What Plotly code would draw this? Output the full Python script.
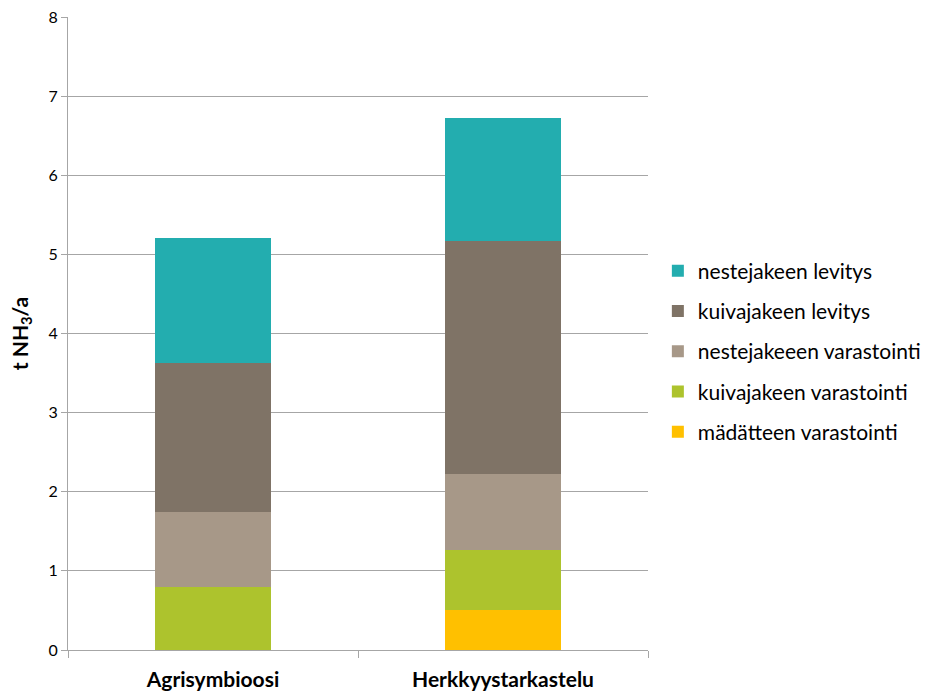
import plotly.graph_objects as go

categories = ["Agrisymbioosi", "Herkkyystarkastelu"]
series_names = [
    "mädätteen varastointi",
    "kuivajakeen varastointi",
    "nestejakeeen varastointi",
    "kuivajakeen levitys",
    "nestejakeen levitys",
]
madatteen_varastointi = [0.0, 0.50]
kuivajakeen_varastointi = [0.80, 0.77]
nestejakeen_varastointi = [0.95, 0.95]
kuivajakeen_levitys = [1.88, 2.95]
nestejakeen_levitys = [1.58, 1.55]
series_values = [
    madatteen_varastointi,
    kuivajakeen_varastointi,
    nestejakeen_varastointi,
    kuivajakeen_levitys,
    nestejakeen_levitys,
]
colors = ["#FFC000", "#ADC32D", "#A79888", "#7F7366", "#23ADAF"]
y_ticks = [0, 1, 2, 3, 4, 5, 6, 7, 8]

FONT = "Lato"

fig = go.Figure()
n = len(series_names)
for i, (name, vals, col) in enumerate(zip(series_names, series_values, colors)):
    fig.add_trace(go.Bar(
        x=categories, y=vals, name=name, marker_color=col,
        marker_line_width=0, legendgroup=f"g{i}", legendrank=n - i,
    ))

fig.update_layout(
    barmode="stack",
    bargap=0.6,
    width=942, height=693,
    margin=dict(l=68, r=294, t=17, b=43, autoexpand=False),
    plot_bgcolor="white", paper_bgcolor="white",
    font=dict(family=FONT, color="#000000"),
    legend=dict(
        x=1.017, y=0.4716, xanchor="left", yanchor="middle",
        traceorder="grouped", tracegroupgap=10,
        font=dict(size=21, family=FONT, color="#000000"),
        itemwidth=30,
    ),
    showlegend=True,
)
fig.update_xaxes(
    automargin=False,
    showline=True, linecolor="#A6A6A6", linewidth=1,
    ticks="outside", tickson="boundaries", ticklen=7, tickcolor="#A6A6A6",
    tickfont=dict(size=21, family=FONT, color="#000000", weight="bold"),
    ticklabelstandoff=11,
    showgrid=False,
)
fig.update_yaxes(
    automargin=False,
    range=[0, 8], tickvals=y_ticks,
    showline=True, linecolor="#A6A6A6", linewidth=1,
    showgrid=True, gridcolor="#A6A6A6", gridwidth=1,
    ticks="outside", ticklen=6, tickcolor="#A6A6A6",
    tickfont=dict(size=16, family=FONT, color="#000000"),
    title=dict(text="t NH<sub>3</sub>/a", font=dict(size=21, family=FONT, weight="bold"), standoff=14),
    zeroline=False,
)

fig.write_html("out.html")
